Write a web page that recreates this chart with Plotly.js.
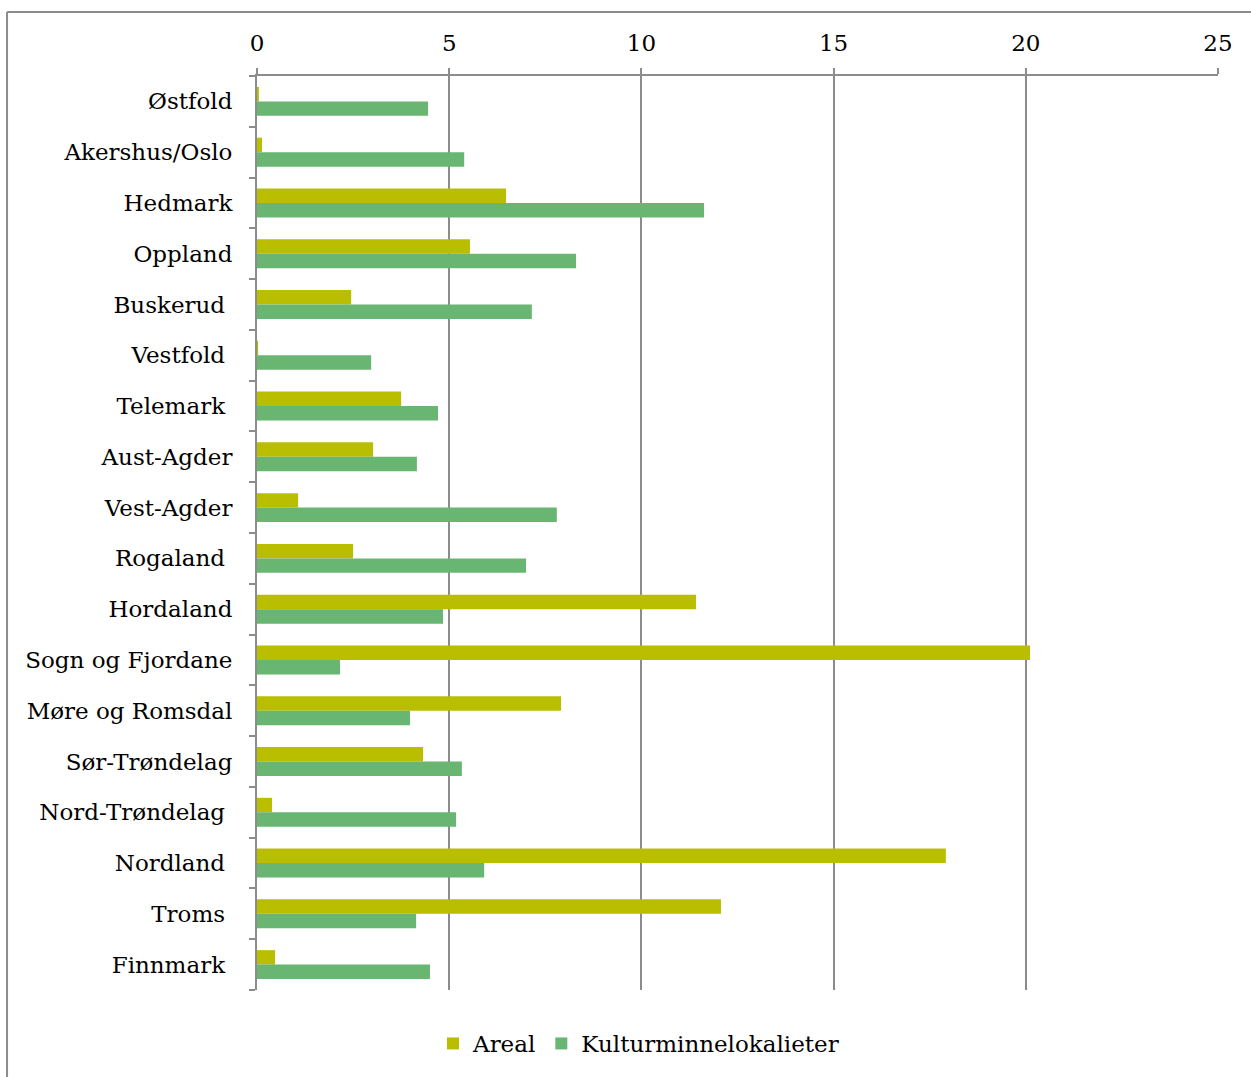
<!DOCTYPE html>
<html>
<head>
<meta charset="utf-8">
<script src="https://cdn.plot.ly/plotly-3.0.1.min.js"></script>
<style>html,body{margin:0;padding:0;background:#fff;}#chart{width:1251px;height:1077px;}</style>
</head>
<body>
<div id="chart"></div>
<script>
const categories = ["Østfold","Akershus/Oslo","Hedmark","Oppland","Buskerud","Vestfold","Telemark","Aust-Agder","Vest-Agder","Rogaland","Hordaland","Sogn og Fjordane","Møre og Romsdal","Sør-Trøndelag","Nord-Trøndelag","Nordland","Troms","Finnmark"];
const tickLabels = ["Østfold","Akershus/Oslo","Hedmark","Oppland","Buskerud\u00a0","Vestfold\u00a0","Telemark\u00a0","Aust-Agder","Vest-Agder","Rogaland\u00a0","Hordaland","Sogn og Fjordane","Møre og Romsdal","Sør-Trøndelag","Nord-Trøndelag\u00a0","Nordland\u00a0","Troms\u00a0","Finnmark\u00a0"];
const areal = [0.05,0.13,6.48,5.54,2.45,0.03,3.75,3.02,1.07,2.50,11.42,20.11,7.91,4.32,0.39,17.92,12.07,0.47];
const kultur = [4.45,5.39,11.63,8.30,7.15,2.97,4.71,4.16,7.80,7.00,4.84,2.16,3.98,5.33,5.18,5.91,4.14,4.50];
const xTicks = [0,5,10,15,20,25];

const font = "Georgia, 'DejaVu Serif', serif";
const data = [
  {type:"bar", orientation:"h", name:"Areal", y:categories, x:areal, marker:{color:"#b9bf00"}},
  {type:"bar", orientation:"h", name:"Kulturminnelokalieter", y:categories, x:kultur, marker:{color:"#69b672"}}
];
const layout = {
  width:1251, height:1077,
  margin:{l:257, r:33, t:76, b:85},
  paper_bgcolor:"#fff", plot_bgcolor:"#fff",
  font:{family:font, size:23, color:"#000"},
  barmode:"group", bargap:0.43, bargroupgap:0,
  showlegend:true,
  legend:{orientation:"h", x:0.397, xanchor:"center", y:-0.035, yanchor:"top", font:{family:font, size:23}, traceorder:"normal", itemwidth:30},
  xaxis:{side:"top", range:[0,25], tickvals:xTicks, ticktext:xTicks.map(String), showgrid:true, gridcolor:"#8c8c8c", gridwidth:2,
         showline:true, linecolor:"#8c8c8c", linewidth:2, ticks:"outside", ticklen:6, tickcolor:"#8c8c8c", tickwidth:2,
         zeroline:false, tickfont:{family:font, size:23}, ticklabelstandoff:8},
  yaxis:{type:"category", categoryorder:"array", categoryarray:categories, autorange:"reversed",
         tickvals:categories, ticktext:tickLabels,
         showline:true, linecolor:"#8c8c8c", linewidth:2, ticks:"outside", tickson:"boundaries", ticklen:6, tickcolor:"#8c8c8c", tickwidth:2,
         showgrid:false, tickfont:{family:font, size:23}, ticklabelstandoff:18},
  shapes:[
    {type:"line", xref:"paper", yref:"paper", x0:-0.2601, x1:1.04, y0:1.0699, y1:1.0699, line:{color:"#8c8c8c", width:2}},
    {type:"line", xref:"paper", yref:"paper", x0:-0.2601, x1:-0.2601, y0:1.0699, y1:-0.1, line:{color:"#8c8c8c", width:2}}
  ]
};
Plotly.newPlot("chart", data, layout, {displayModeBar:false, staticPlot:true});
</script>
</body>
</html>
